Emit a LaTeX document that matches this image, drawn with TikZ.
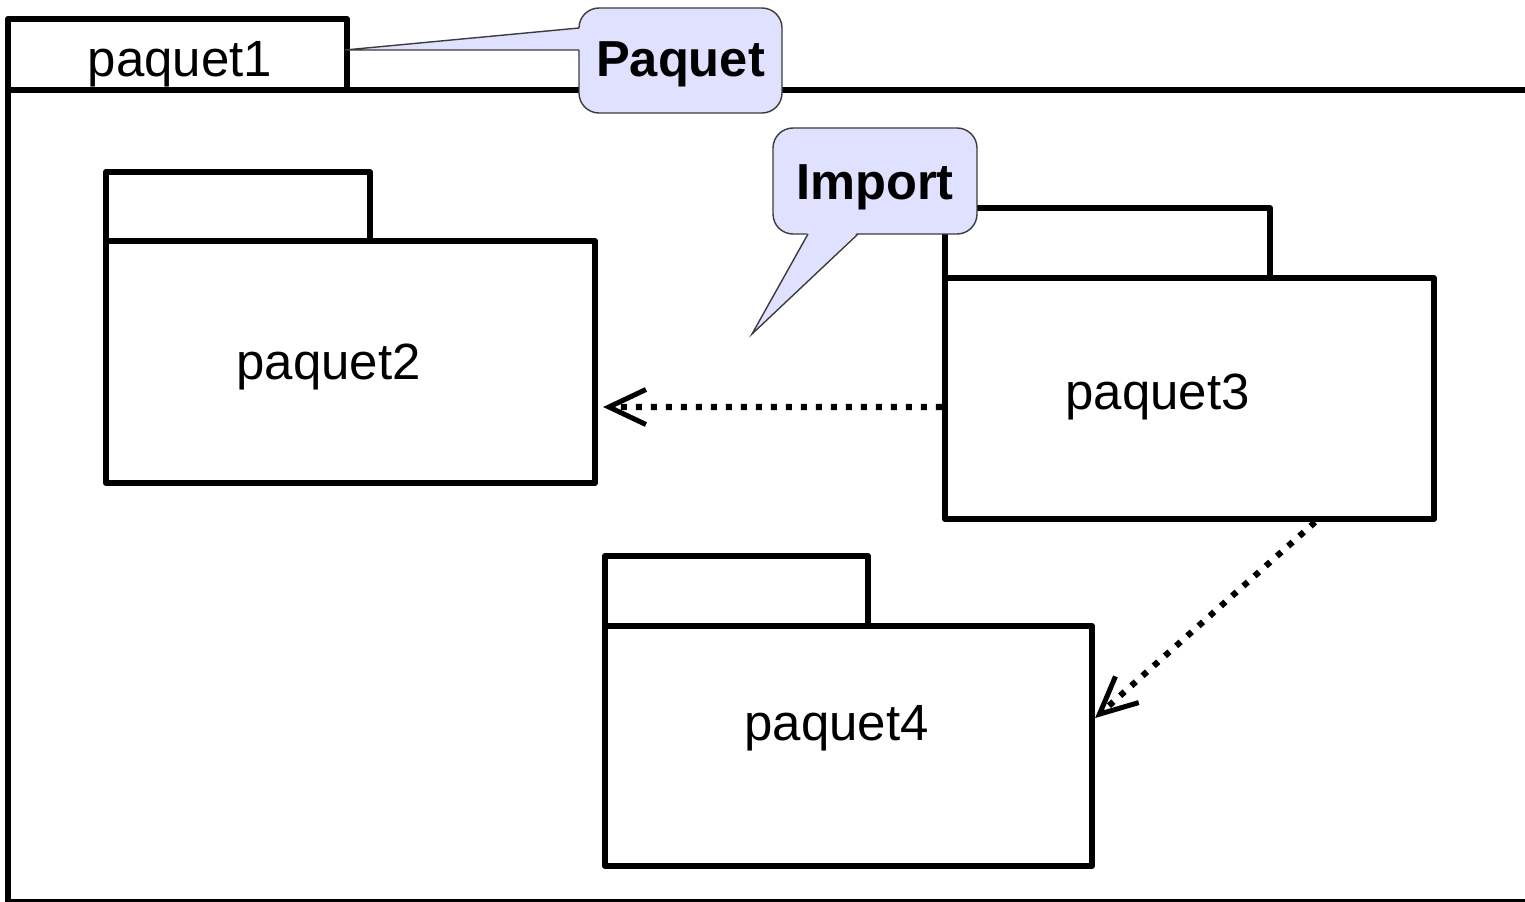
\documentclass[tikz,border=0pt]{standalone}
\usepackage{fontspec}
\setmainfont{Liberation Sans}
\usepackage{tikz}
\usetikzlibrary{arrows.meta}
\pgfdeclarelayer{edgelayer}
\pgfdeclarelayer{nodelayer}
\pgfsetlayers{edgelayer,nodelayer,main}
\definecolor{lilac}{RGB}{224,224,255}
\definecolor{notegray}{RGB}{60,60,60}
\tikzstyle{none}=[inner sep=0pt]
\tikzstyle{body}=[rectangle,fill=white,draw=black,line width=0.062cm,line join=round,inner sep=0pt]
\tikzstyle{tab}=[rectangle,fill=white,draw=black,line width=0.062cm,line join=round,inner sep=0pt]
\tikzstyle{pkgtext}=[inner sep=0pt,anchor=base,font=\fontsize{14.5}{17}\selectfont]
\tikzstyle{bubble}=[rectangle,rounded corners=0.2cm,fill=lilac,draw=notegray,line width=0.4pt,inner sep=0pt,font=\fontsize{14.4}{17}\selectfont\bfseries]
\tikzstyle{pointer}=[draw=notegray,line width=0.4pt,line join=miter]
\tikzstyle{dependency}=[-{Straight Barb[length=0.37cm,width=0.35cm,line width=0.05cm]},line width=0.062cm,dash pattern=on 0.06cm off 0.09cm]

\begin{document}
\begin{tikzpicture}
	\useasboundingbox (0, 0) rectangle (15.25, -9.01);
	\begin{pgfonlayer}{nodelayer}
		\begin{scope}
			\clip (0, 0) rectangle (15.25, -9.01);
			\node [style=body, fill=none, minimum width=15.52cm, minimum height=8.12cm] (1) at (7.84, -4.96) {};
		\end{scope}
		\node [style=tab, minimum width=3.39cm, minimum height=0.71cm] (0) at (1.775, -0.545) {};
		\node [style=body, minimum width=4.89cm, minimum height=2.42cm] (2) at (3.505, -3.62) {};
		\node [style=tab, minimum width=2.64cm, minimum height=0.69cm] (3) at (2.38, -2.065) {};
		\node [style=body, minimum width=4.89cm, minimum height=2.41cm] (4) at (11.895, -3.985) {};
		\node [style=tab, minimum width=3.25cm, minimum height=0.70cm] (5) at (11.075, -2.43) {};
		\node [style=body, minimum width=4.87cm, minimum height=2.40cm] (6) at (8.485, -7.46) {};
		\node [style=tab, minimum width=2.63cm, minimum height=0.70cm] (7) at (7.365, -5.91) {};
		\node [style=pkgtext] (10) at (1.80, -0.77) {paquet1};
		\node [style=pkgtext] (11) at (3.285, -3.79) {paquet2};
		\node [style=pkgtext] (12) at (11.575, -4.09) {paquet3};
		\node [style=pkgtext] (13) at (8.365, -7.40) {paquet4};
	\end{pgfonlayer}
	\begin{pgfonlayer}{edgelayer}
		\draw [style=dependency, shorten >=0.05cm] ([yshift=-0.085cm]4.west) to ([yshift=-0.45cm]2.east);
		\draw [style=dependency] ([xshift=1.255cm]4.south) to ([yshift=0.28cm]6.east);
	\end{pgfonlayer}
	% notes
	\node [style=bubble, minimum width=2.03cm, minimum height=1.05cm, text height=0.43cm, text depth=0.10cm] (8) at (6.805, -0.605) {Paquet};
	\fill [lilac] (3.45, -0.50) -- (5.81, -0.28) -- (5.81, -0.50) -- cycle;
	\draw [style=pointer] (5.79, -0.28) -- (3.45, -0.50) -- (5.79, -0.50);
	\node [style=bubble, minimum width=2.04cm, minimum height=1.06cm, text height=0.48cm, text depth=0.10cm] (9) at (8.75, -1.81) {Import};
	\fill [lilac] (7.52, -3.34) -- (8.08, -2.32) -- (8.58, -2.32) -- cycle;
	\draw [style=pointer] (8.08, -2.34) -- (7.52, -3.34) -- (8.58, -2.34);
\end{tikzpicture}
\end{document}
